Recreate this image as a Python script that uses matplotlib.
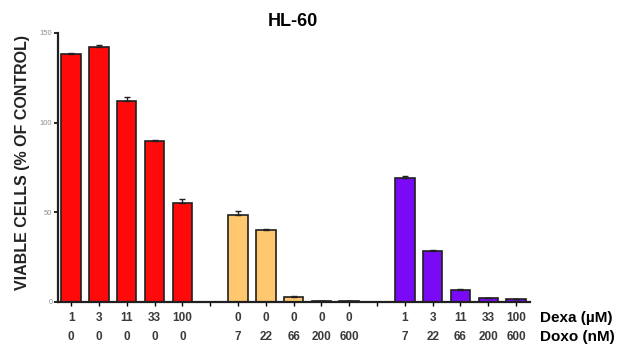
import numpy as np
import matplotlib
matplotlib.use('Agg')
import matplotlib.pyplot as plt

plt.rcParams['font.family'] = ['Liberation Sans', 'DejaVu Sans']

# data
dexa = ['1', '3', '11', '33', '100', '', '0', '0', '0', '0', '0', '', '1', '3', '11', '33', '100']
doxo = ['0', '0', '0', '0', '0', '', '7', '22', '66', '200', '600', '', '7', '22', '66', '200', '600']
dexa_vals = [138, 142, 112, 90, 55]
dexa_err = [1, 1, 2.5, 0.5, 2.5]
doxo_vals = [48.5, 40, 3, 0.5, 0.5]
doxo_err = [2, 0.8, 0.3, 0.2, 0.2]
combo_vals = [69, 28.5, 6.5, 2, 1.5]
combo_err = [1, 0.5, 0.5, 0.3, 0.3]

colors = ['#ff0a0a', '#ffc86e', '#7a0af5']

fig = plt.figure(figsize=(6.17, 3.54), dpi=100)
ax = fig.add_axes([0.094, 0.147, 0.765, 0.76])

groups = [(dexa_vals, dexa_err), (doxo_vals, doxo_err), (combo_vals, combo_err)]
for g, (vals, err) in enumerate(groups):
    x = np.arange(5) + g * 6
    ax.bar(x, vals, width=0.7, color=colors[g], edgecolor='#202020', linewidth=1.2,
           yerr=[np.zeros(5), err], error_kw=dict(ecolor='#202020', capsize=2.5, elinewidth=1, capthick=1),
           zorder=2)

ax.set_xlim(-0.47, 16.5)
ax.set_ylim(0, 150)
ax.set_yticks([0, 50, 100, 150])
ax.tick_params(axis='y', labelsize=5.5, labelcolor='#909090', length=3, width=1.2, pad=1)
ax.set_xticks(np.arange(17))
ax.tick_params(axis='x', length=3, width=1, labelbottom=False)
for s in ['top', 'right']:
    ax.spines[s].set_visible(False)
for s in ['left', 'bottom']:
    ax.spines[s].set_linewidth(1.6)
    ax.spines[s].set_color('#202020')

for i in range(17):
    ax.text(i, -9, dexa[i], ha='center', va='center', fontsize=8.5, fontweight='bold',
            color='#3a3a3a', clip_on=False)
    ax.text(i, -19.5, doxo[i], ha='center', va='center', fontsize=8.5, fontweight='bold',
            color='#3a3a3a', clip_on=False)

ax.text(16.85, -9, 'Dexa (µM)', ha='left', va='center', fontsize=11, fontweight='bold', clip_on=False)
ax.text(16.85, -19.5, 'Doxo (nM)', ha='left', va='center', fontsize=11, fontweight='bold', clip_on=False)

fig.text(0.475, 0.94, 'HL-60', ha='center', va='center', fontsize=13, fontweight='bold')
fig.text(0.036, 0.54, 'VIABLE CELLS (% OF CONTROL)', ha='center', va='center', rotation=90,
         fontsize=11.5, fontweight='bold', color='#222222')

fig.savefig('out.png', dpi=100)
